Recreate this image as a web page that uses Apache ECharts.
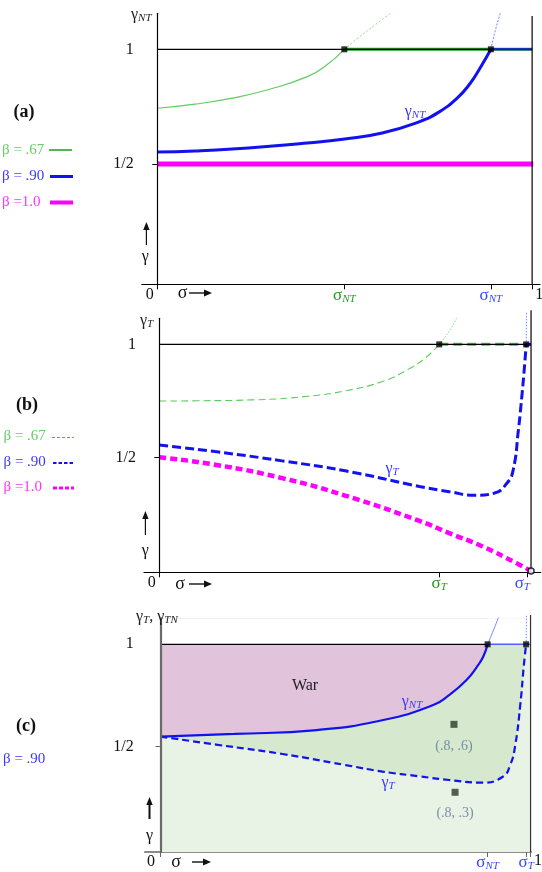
<!DOCTYPE html>
<html><head><meta charset="utf-8">
<script src="https://cdn.jsdelivr.net/npm/echarts@6/dist/echarts.min.js"></script>
<style>html,body{margin:0;padding:0;background:#fff}#c{width:542px;height:872px}</style>
</head><body><div id="c"></div>
<script>
// ---------------- DATA ----------------
// Panel (a): gamma_NT curves
const aGreenSigma = [0, 0.1, 0.2, 0.3, 0.4, 0.45, 0.499];
const aGreenGamma = [0.743, 0.761, 0.787, 0.826, 0.881, 0.929, 1.0];
const aGreenExtSigma = [0.499, 0.54, 0.58, 0.622];
const aGreenExtGamma = [1.0, 1.055, 1.105, 1.157];
const aBlueSigma = [0, 0.1, 0.2, 0.3, 0.4, 0.5, 0.6, 0.7, 0.75, 0.8, 0.835, 0.86, 0.89];
const aBlueGamma = [0.552, 0.557, 0.565, 0.577, 0.592, 0.609, 0.635, 0.685, 0.725, 0.787, 0.852, 0.915, 1.0];
const aBlueExtSigma = [0.89, 0.901, 0.915];
const aBlueExtGamma = [1.0, 1.077, 1.157];
const aMagentaSigma = [0, 1.003];
const aMagentaGamma = [0.5, 0.5];
// Panel (b): gamma_T curves
const bGreenSigma = [0, 0.1, 0.25, 0.4, 0.5, 0.6, 0.675, 0.72, 0.753];
const bGreenGamma = [0.750, 0.751, 0.755, 0.771, 0.795, 0.836, 0.895, 0.946, 1.0];
const bGreenExtSigma = [0.753, 0.782, 0.8];
const bGreenExtGamma = [1.0, 1.063, 1.117];
const bBlueSigma = [0, 0.15, 0.33, 0.5, 0.7, 0.78, 0.85, 0.9, 0.935, 0.952, 0.966, 0.973, 0.982, 0.987];
const bBlueGamma = [0.556, 0.527, 0.486, 0.442, 0.373, 0.350, 0.334, 0.343, 0.387, 0.446, 0.622, 0.732, 0.894, 1.0];
const bBlueExtSigma = [0.987, 0.988];
const bBlueExtGamma = [1.0, 1.14];
const bMagentaSigma = [0, 0.15, 0.33, 0.5, 0.7, 0.78, 0.87, 0.96, 1.0];
const bMagentaGamma = [0.502, 0.469, 0.410, 0.333, 0.221, 0.167, 0.108, 0.035, 0.0];
// Panel (c): beta = .90
const cNTSigma = [0, 0.2, 0.422, 0.602, 0.737, 0.78, 0.827, 0.855, 0.872, 0.884];
const cNTGamma = [0.549, 0.562, 0.581, 0.630, 0.703, 0.752, 0.826, 0.89, 0.939, 1.0];
const cNTExtSigma = [0.884, 0.9, 0.913];
const cNTExtGamma = [1.0, 1.07, 1.13];
const cTSigma = [0, 0.15, 0.33, 0.5, 0.6, 0.7, 0.78, 0.87, 0.925, 0.945, 0.958, 0.972, 0.982, 0.988];
const cTGamma = [0.549, 0.51, 0.464, 0.41, 0.378, 0.355, 0.337, 0.324, 0.353, 0.41, 0.5, 0.7, 0.9, 1.0];
const cTExtSigma = [0.988, 0.989];
const cTExtGamma = [1.0, 1.14];
const cPointSigma = [0.793, 0.796];
const cPointGamma = [0.609, 0.277];
const cPointLabels = ['(.8, .6)', '(.8, .3)'];
// Tick labels
const yTickValues = [0.5, 1];
const yTickLabels = ['1/2', '1'];
const aXTicks = [0, 0.499, 0.89, 1];
const bXTicks = [0, 0.753, 0.99];
const cXTicks = [0, 0.884, 0.988, 1];
const cXLabels = [0, 0.884, 0.988];
const legendA = ['β = .67', 'β = .90', 'β =1.0'];
const legendC = ['β = .90'];

// ---------------- STYLE ----------------
const FONT = "'Liberation Serif','DejaVu Serif',serif";
const GREEN_L = '#5fcc5f', GREEN_D = '#1f9a1f', BLUE = '#1212ee', MAG = '#ff00ff';
const SMOOTH = 0.5;
const zip = (xs, ys) => xs.map((x, i) => [x, ys[i]]);
const last = a => a[a.length - 1];

function line(gi, data, color, width, type, z, extra) {
  return Object.assign({
    type: 'line', xAxisIndex: gi, yAxisIndex: gi, data, symbol: 'none',
    smooth: data.length > 2 ? SMOOTH : false,
    lineStyle: { color, width, type: type || 'solid', cap: 'butt' },
    z: z || 5, silent: true, clip: false, animation: false
  }, extra || {});
}
function area(gi, data, color, origin, z) {
  return {
    type: 'line', xAxisIndex: gi, yAxisIndex: gi, data, symbol: 'none',
    smooth: data.length > 2 ? SMOOTH : false,
    lineStyle: { width: 0, opacity: 0 }, areaStyle: { color, opacity: 1, origin },
    z, silent: true, animation: false
  };
}
function squares(gi, data, size, color, z) {
  return { type: 'scatter', xAxisIndex: gi, yAxisIndex: gi, data, symbol: 'rect', symbolSize: size,
    itemStyle: { color }, z: z || 8, silent: true, animation: false, clip: false };
}

const rich = {
  kl: { fontFamily: FONT, fontSize: 16, color: '#111', padding: [0, 15, 0, 0] },
  kl2: { fontFamily: FONT, fontSize: 16, color: '#111', padding: [0, 19, 0, 0] },
  kr: { fontFamily: FONT, fontSize: 16, color: '#111', padding: [0, 0, 0, 14] },
  g: { fontFamily: FONT, fontSize: 17, color: GREEN_D },
  gs: { fontFamily: FONT, fontSize: 11, fontStyle: 'italic', color: GREEN_D, padding: [7, 0, 0, 0] },
  b: { fontFamily: FONT, fontSize: 17, color: '#3348ff' },
  bs: { fontFamily: FONT, fontSize: 11, fontStyle: 'italic', color: '#3348ff', padding: [7, 0, 0, 0] },
  bsL: { fontFamily: FONT, fontSize: 11, fontStyle: 'italic', color: '#3348ff', padding: [7, 10, 0, 0] }
};
const near = (a, b) => Math.abs(a - b) < 1e-6;

function xAxisFor(gi, min, max, ticks, labels, fmt, axisColor, axisWidth) {
  return {
    type: 'value', gridIndex: gi, min, max,
    axisLine: { onZero: false, lineStyle: { color: axisColor, width: axisWidth } },
    axisTick: { show: true, customValues: ticks, length: 5, lineStyle: { color: axisColor, width: 1 } },
    axisLabel: { show: true, customValues: labels, margin: 2, formatter: fmt, rich,
      showMinLabel: true, showMaxLabel: true, hideOverlap: false },
    splitLine: { show: false }
  };
}
function yAxisFor(gi, min, max, margin, axisColor, axisWidth) {
  return {
    type: 'value', gridIndex: gi, min, max, z: 20,
    axisLine: { onZero: true, lineStyle: { color: axisColor, width: axisWidth } },
    axisTick: { show: true, customValues: [0.5], length: 5, lineStyle: { color: axisColor } },
    axisLabel: { show: true, customValues: yTickValues, margin,
      formatter: v => yTickLabels[yTickValues.findIndex(t => near(t, v))],
      fontFamily: FONT, fontSize: 16, color: '#111' },
    splitLine: { show: false }
  };
}

const grids = [
  { left: 141.7, top: 13.3, width: 398.3, height: 271, outerBoundsMode: 'none', containLabel: false },
  { left: 144, top: 318.3, width: 396.7, height: 254, outerBoundsMode: 'none', containLabel: false },
  { left: 144.7, top: 618.3, width: 386.6, height: 233.7, outerBoundsMode: 'none', containLabel: false }
];

const xAxes = [
  xAxisFor(0, -0.0416, 1.021, aXTicks, aXTicks, v => {
    if (near(v, 0)) return '{kl|0}';
    if (near(v, 1)) return '{kr|1}';
    if (near(v, aXTicks[1])) return '{g|σ}{gs|NT}';
    return '{b|σ}{bs|NT}';
  }, '#000', 1.2),
  xAxisFor(1, -0.0412, 1.026, bXTicks, bXTicks, v => {
    if (near(v, 0)) return '{kl|0}';
    if (near(v, bXTicks[1])) return '{g|σ}{gs|T}';
    return '{b|σ}{bsL|T}';
  }, '#000', 1.2),
  xAxisFor(2, -0.0427, 1.002, cXTicks, cXLabels, v => {
    if (near(v, 0)) return '{kl2|0}';
    if (near(v, cXLabels[1])) return '{b|σ}{bs|NT}';
    return '{b|σ}{bs|T}';
  }, '#666', 1.5)
];
const yAxes = [
  yAxisFor(0, -0.0244, 1.157, 8, '#000', 1.2),
  yAxisFor(1, -0.0057, 1.115, 8, '#000', 1.2),
  yAxisFor(2, -0.0147, 1.127, 11, '#6a6a6a', 2.2)
];

const series = [];
// ---- Panel (a)
series.push(line(0, [[0, 1], [last(aBlueSigma), 1]], '#000', 1.2, 'solid', 6));
series.push(line(0, [[last(aGreenSigma), 1], [1, 1]], GREEN_D, 3, 'solid', 4));
series.push(line(0, [[last(aBlueSigma), 1], [1, 1]], BLUE, 2, 'solid', 6));
series.push(line(0, [[1, -0.0244], [1, 1.145]], '#000', 1.2, 'solid', 6));
series.push(line(0, zip(aGreenSigma, aGreenGamma), GREEN_L, 1.2, 'solid', 5));
series.push(line(0, zip(aGreenExtSigma, aGreenExtGamma), '#8bdc8b', 1, [2, 2], 5));
series.push(line(0, zip(aBlueSigma, aBlueGamma), BLUE, 3, 'solid', 5));
series.push(line(0, zip(aBlueExtSigma, aBlueExtGamma), '#7788ff', 1, [2, 1.5], 5));
series.push(line(0, zip(aMagentaSigma, aMagentaGamma), MAG, 5, 'solid', 5));
series.push(squares(0, [[last(aGreenSigma), 1], [last(aBlueSigma), 1]], 6, '#000'));
// ---- Panel (b)
series.push(line(1, [[0, 1], [1, 1]], '#000', 1.2, 'solid', 6));
series.push(line(1, [[last(bGreenSigma), 1], [last(bBlueSigma), 1]], '#55b055', 3, [9, 5], 4));
series.push(line(1, [[last(bBlueSigma), 1], [1, 1]], BLUE, 3, 'solid', 6));
series.push(line(1, [[1, -0.0057], [1, 1.151]], '#000', 1.2, 'solid', 6));
series.push(line(1, zip(bGreenSigma, bGreenGamma), GREEN_L, 1.1, [7, 4], 5));
series.push(line(1, zip(bGreenExtSigma, bGreenExtGamma), '#8bdc8b', 1, [1.5, 1.5], 5));
series.push(line(1, zip(bBlueSigma, bBlueGamma), BLUE, 3, [9, 4], 5));
series.push(line(1, zip(bBlueExtSigma, bBlueExtGamma), '#7788ff', 1, [1.5, 1.5], 5));
series.push(line(1, zip(bMagentaSigma, bMagentaGamma), MAG, 4.5, [7, 4], 5));
series.push(squares(1, [[last(bGreenSigma), 1], [last(bBlueSigma), 1]], 6, '#000'));
series.push({ type: 'scatter', xAxisIndex: 1, yAxisIndex: 1, data: [[1, 0]], symbol: 'circle', symbolSize: 6,
  itemStyle: { color: '#fff', borderColor: '#000', borderWidth: 1.5 }, z: 9, silent: true, animation: false, clip: false });
// ---- Panel (c) fills
series.push(area(2, [[0, 1], [1, 1]], '#e8f3e5', 'start', 1));
series.push(area(2, zip(cTSigma, cTGamma).concat([[1, 1]]), '#d6e8cd', 'end', 2));
series.push(area(2, zip(cNTSigma, cNTGamma), '#e1c3dc', 'end', 3));
series.push(area(2, [[-0.0427, 1], [1.002, 1]], '#ffffff', 'end', 4));
// ---- Panel (c) lines
series.push(line(2, [[0, 1], [last(cNTSigma), 1]], '#000', 1.2, 'solid', 6));
series.push(line(2, [[last(cNTSigma), 1], [1, 1]], '#4a63ff', 1.5, 'solid', 6));
series.push(line(2, [[1, -0.0147], [1, 1.143]], '#333', 1.2, 'solid', 6));
series.push(line(2, zip(cNTSigma, cNTGamma), BLUE, 2.2, 'solid', 7));
series.push(line(2, zip(cNTExtSigma, cNTExtGamma), '#7788ff', 1, 'solid', 7));
series.push(line(2, zip(cTSigma, cTGamma), BLUE, 2.2, [7, 4], 7));
series.push(line(2, zip(cTExtSigma, cTExtGamma), '#7788ff', 1, [1.5, 1.5], 7));
series.push(squares(2, [[last(cNTSigma), 1], [last(cTSigma), 1]], 6, '#000', 9));
series.push({ type: 'scatter', xAxisIndex: 2, yAxisIndex: 2, data: zip(cPointSigma, cPointGamma),
  symbol: 'rect', symbolSize: 7, itemStyle: { color: '#2b3a2b' }, z: 9, silent: true, animation: false,
  label: { show: true, position: 'bottom', distance: 11, formatter: p => cPointLabels[p.dataIndex],
    fontFamily: FONT, fontSize: 14, color: '#5a7896' } });

// ---------------- GRAPHIC (annotations) ----------------
const g = [];
function txt(x, y, text, opt) {
  g.push({ type: 'text', x, y, silent: true, z: 50, style: Object.assign({
    text, fontFamily: FONT, fontSize: 16, fill: '#111', align: 'center', verticalAlign: 'middle' }, opt || {}) });
}
function seg(x1, y1, x2, y2, stroke, w, dash) {
  g.push({ type: 'line', silent: true, z: 50, shape: { x1, y1, x2, y2 }, style: { stroke, lineWidth: w, lineDash: dash || null } });
}
function upArrow(x, yTop, yBot, w) {
  seg(x, yBot, x, yTop + 5, '#111', w);
  g.push({ type: 'polygon', silent: true, z: 50, shape: { points: [[x, yTop], [x - 3.2, yTop + 8], [x + 3.2, yTop + 8]] }, style: { fill: '#111' } });
}
function rightArrow(x1, x2, y) {
  seg(x1, y, x2 - 5, y, '#111', 1.4);
  g.push({ type: 'polygon', silent: true, z: 50, shape: { points: [[x2, y], [x2 - 8, y - 3.5], [x2 - 8, y + 3.5]] }, style: { fill: '#111' } });
}
const richSub = (col) => ({
  m: { fontFamily: FONT, fontSize: 16, fill: col, color: col },
  s: { fontFamily: FONT, fontSize: 11, fontStyle: 'italic', fill: col, color: col, padding: [7, 0, 0, 0] }
});
// panel labels
txt(24, 112, '(a)', { fontWeight: 'bold', fontSize: 18 });
txt(27, 405, '(b)', { fontWeight: 'bold', fontSize: 18 });
txt(26, 726, '(c)', { fontWeight: 'bold', fontSize: 18 });
// legends (a)
const legColors = ['#66cc66', '#3a3aff', '#ff33ff'];
const legYa = [150, 176.5, 202.5];
legendA.forEach((t, i) => txt(2, legYa[i], t, { align: 'left', fill: legColors[i], fontSize: 15 }));
seg(49, 150, 72, 150, GREEN_D, 1.5);
seg(50, 176.5, 73, 176.5, BLUE, 3);
seg(50, 202.5, 73, 202.5, MAG, 4);
// legends (b)
const legYb = [436, 462, 487.5];
legendA.forEach((t, i) => txt(3.5, legYb[i], t, { align: 'left', fill: legColors[i], fontSize: 15 }));
seg(52, 437.5, 74, 437.5, '#55b055', 1.2, [3, 2]);
seg(53, 463, 74, 463, BLUE, 2, [3.5, 2]);
seg(53, 488, 74, 488, MAG, 3, [4, 2]);
// legend (c)
txt(3, 759, legendC[0], { align: 'left', fill: '#3a3aff', fontSize: 15 });
// axis titles
txt(131, 15, '{m|γ}{s|NT}', { align: 'left', rich: richSub('#222') });
txt(140, 321, '{m|γ}{s|T}', { align: 'left', rich: richSub('#222') });
txt(136, 617, '{m|γ}{s|T}{m|, γ}{s|TN}', { align: 'left', rich: richSub('#222') });
// right-end "1" of panel (c)
txt(538, 861, '1');
// gamma arrows
upArrow(146.4, 222, 245, 1.2); txt(145.4, 257, 'γ');
upArrow(145.4, 511, 535, 1.2); txt(145.4, 551, 'γ');
upArrow(149.5, 797, 819, 2); txt(149.5, 836, 'γ');
// sigma arrows
txt(182.5, 293, 'σ', { fontSize: 18 }); rightArrow(189, 212, 293);
txt(180, 584, 'σ', { fontSize: 18 }); rightArrow(189, 212, 584);
txt(176, 862, 'σ', { fontSize: 18 }); rightArrow(192, 211, 862);
// curve labels
txt(415, 112, '{m|γ}{s|NT}', { rich: richSub('#3a3aff') });
txt(392, 469, '{m|γ}{s|T}', { rich: richSub('#3a3aff') });
txt(305, 686, 'War', { fontSize: 16, fill: '#222' });
txt(412, 702, '{m|γ}{s|NT}', { rich: richSub('#3a3aff') });
txt(388, 783, '{m|γ}{s|T}', { rich: richSub('#3a3aff') });

const chart = echarts.init(document.getElementById('c'), null, { renderer: 'canvas' });
chart.setOption({
  animation: false,
  backgroundColor: '#fff',
  grid: grids,
  xAxis: xAxes,
  yAxis: yAxes,
  series,
  graphic: g
});
</script>
</body></html>
